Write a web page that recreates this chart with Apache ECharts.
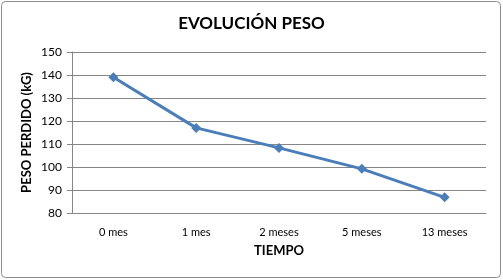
<!DOCTYPE html>
<html><head><meta charset="utf-8">
<script src="https://cdn.jsdelivr.net/npm/echarts@6/dist/echarts.min.js"></script>
<style>html,body{margin:0;padding:0;background:#fff}#c{width:503px;height:280px}</style>
</head><body><div id="c"></div>
<script>
const categories = ['0 mes', '1 mes', '2 meses', '5 meses', '13 meses'];
const pesoValues = [139, 117, 108.3, 99.2, 86.8];
const yTicks = [80, 90, 100, 110, 120, 130, 140, 150];
const titleText = 'EVOLUCIÓN PESO';
const xName = 'TIEMPO';
const yName = 'PESO PERDIDO (kG)';

const font = 'Lato, "Open Sans", sans-serif';
const chart = echarts.init(document.getElementById('c'), null, {renderer: 'canvas'});
chart.setOption({
  animation: false,
  backgroundColor: '#fff',
  graphic: [{
    type: 'rect', shape: {x: 1.5, y: 1.5, width: 499, height: 276, r: 4},
    style: {fill: 'none', stroke: '#8c8c8c', lineWidth: 1}, silent: true
  }],
  title: {
    text: titleText, left: 'center', top: 10,
    textStyle: {fontFamily: font, fontSize: 17, fontWeight: 'bold', color: '#000'}
  },
  grid: {left: 72, right: 17, top: 52, bottom: 67},
  xAxis: {
    type: 'category', data: categories, boundaryGap: true,
    name: xName, nameLocation: 'middle', nameGap: 31,
    nameTextStyle: {fontFamily: font, fontSize: 13, fontWeight: 'bold', color: '#000'},
    axisLine: {lineStyle: {color: '#868686', width: 1}},
    axisTick: {show: false},
    axisLabel: {fontFamily: font, fontSize: 11, color: '#000', margin: 14}
  },
  yAxis: {
    type: 'value', min: yTicks[0], max: yTicks[yTicks.length - 1], interval: 10,
    name: yName, nameLocation: 'middle', nameGap: 39, nameRotate: 90,
    nameMoveOverlap: false,
    nameTextStyle: {fontFamily: font, fontSize: 13, fontWeight: 'bold', color: '#000'},
    axisLine: {show: true, lineStyle: {color: '#868686', width: 1}},
    axisTick: {show: true, length: 5, lineStyle: {color: '#868686'}},
    splitLine: {lineStyle: {color: '#868686', width: 1}},
    axisLabel: {fontFamily: font, fontSize: 12, color: '#000', margin: 10}
  },
  series: [{
    type: 'line', data: pesoValues,
    symbol: 'diamond', symbolSize: 10,
    lineStyle: {color: '#4a7ebb', width: 3},
    itemStyle: {color: '#4a7ebb'}
  }]
});
</script></body></html>
